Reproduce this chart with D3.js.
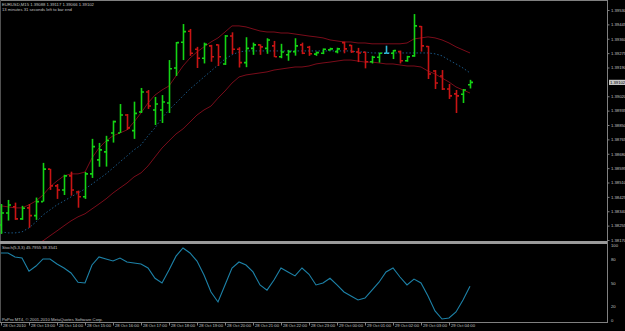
<!DOCTYPE html>
<html>
<head>
<meta charset="utf-8">
<title>EURUSD,M15</title>
<script src="https://cdnjs.cloudflare.com/ajax/libs/d3/7.8.5/d3.min.js"></script>
<style>
    body { margin: 0; background: #000; }
    svg text { font-family: "Liberation Sans", Arial, sans-serif; fill: #c0c0c0; }
</style>
</head>
<body>
<div id="chart"></div>
<script>
// bar data, 15 minute bars from 28 Oct 2010 12:00
var barOpen = [1.38259,1.38330,1.38367,1.38295,1.38360,1.38314,1.38397,1.38589,1.38490,1.38466,
    1.38549,1.38454,1.38426,1.38561,1.38644,1.38691,1.38803,1.38803,1.38909,1.38817,
    1.38927,1.39045,1.38939,1.38939,1.38980,1.39187,1.39339,1.39404,1.39298,1.39245,
    1.39318,1.39324,1.39211,1.39376,1.39298,1.39219,1.39303,1.39324,1.39303,1.39318,
    1.39254,1.39265,1.39284,1.39324,1.39310,1.39269,1.39274,1.39294,1.39284,1.39337,
    1.39321,1.39282,1.39280,1.39224,1.39251,1.39274,1.39274,1.39284,1.39230,1.39259,
    1.39432,1.39314,1.39169,1.39140,1.39063,1.39034,1.39032,1.39088];
var barHigh = [1.38383,1.38407,1.38391,1.38372,1.38383,1.38421,1.38626,1.38591,1.38501,1.38556,
    1.38574,1.38462,1.38572,1.38768,1.38744,1.38786,1.38876,1.38974,1.38915,1.38988,
    1.39069,1.39057,1.39016,1.39027,1.39234,1.39341,1.39447,1.39418,1.39312,1.39337,
    1.39324,1.39327,1.39382,1.39398,1.39310,1.39369,1.39337,1.39327,1.39363,1.39347,
    1.39330,1.39294,1.39363,1.39337,1.39318,1.39284,1.39303,1.39307,1.39307,1.39343,
    1.39324,1.39306,1.39284,1.39259,1.39278,1.39319,1.39294,1.39290,1.39259,1.39506,
    1.39436,1.39318,1.39175,1.39175,1.39093,1.39057,1.39063,1.39117];
var barLow = [1.38206,1.38285,1.38289,1.38289,1.38242,1.38289,1.38397,1.38466,1.38413,1.38436,
    1.38432,1.38361,1.38413,1.38537,1.38603,1.38604,1.38746,1.38803,1.38821,1.38768,
    1.38921,1.38945,1.38850,1.38862,1.38921,1.39140,1.39234,1.39259,1.39187,1.39214,
    1.39224,1.39199,1.39205,1.39269,1.39190,1.39192,1.39265,1.39265,1.39271,1.39251,
    1.39245,1.39230,1.39260,1.39269,1.39259,1.39259,1.39269,1.39290,1.39274,1.39274,
    1.39276,1.39222,1.39185,1.39214,1.39219,1.39271,1.39240,1.39214,1.39224,1.39253,
    1.39284,1.39122,1.39063,1.39057,1.39004,1.38921,1.38980,1.39066];
var barClose = [1.38330,1.38377,1.38295,1.38358,1.38314,1.38397,1.38589,1.38490,1.38466,1.38549,
    1.38466,1.38426,1.38561,1.38722,1.38703,1.38758,1.38870,1.38909,1.38833,1.38919,
    1.39045,1.38962,1.38974,1.38986,1.39183,1.39337,1.39402,1.39274,1.39245,1.39327,
    1.39254,1.39254,1.39376,1.39298,1.39219,1.39303,1.39324,1.39312,1.39353,1.39254,
    1.39282,1.39284,1.39318,1.39274,1.39271,1.39278,1.39298,1.39300,1.39300,1.39300,
    1.39284,1.39276,1.39224,1.39251,1.39274,1.39274,1.39290,1.39230,1.39254,1.39436,
    1.39318,1.39152,1.39098,1.39063,1.39022,1.39022,1.39057,1.39102];

// envelope lines and middle average
var bandUpper = [1.38372,1.38366,1.38360,1.38360,1.38378,1.38401,1.38436,1.38484,1.38519,1.38549,
    1.38561,1.38561,1.38572,1.38655,1.38714,1.38756,1.38786,1.38803,1.38821,1.38868,
    1.38921,1.38980,1.39027,1.39057,1.39081,1.39140,1.39199,1.39246,1.39282,1.39312,
    1.39341,1.39365,1.39400,1.39436,1.39436,1.39430,1.39418,1.39406,1.39400,1.39400,
    1.39394,1.39394,1.39388,1.39382,1.39376,1.39371,1.39365,1.39353,1.39347,1.39341,
    1.39341,1.39335,1.39335,1.39330,1.39330,1.39330,1.39330,1.39330,1.39335,1.39359,
    1.39365,1.39371,1.39365,1.39353,1.39335,1.39312,1.39294,1.39276];
var bandMiddle = [1.38218,1.38212,1.38212,1.38218,1.38242,1.38277,1.38318,1.38348,1.38378,1.38401,
    1.38425,1.38448,1.38472,1.38501,1.38531,1.38561,1.38596,1.38632,1.38667,1.38703,
    1.38732,1.38786,1.38833,1.38892,1.38939,1.38980,1.39022,1.39063,1.39098,1.39134,
    1.39169,1.39205,1.39240,1.39265,1.39282,1.39288,1.39288,1.39288,1.39288,1.39288,
    1.39288,1.39288,1.39288,1.39288,1.39288,1.39288,1.39288,1.39288,1.39288,1.39288,
    1.39288,1.39282,1.39282,1.39276,1.39276,1.39276,1.39276,1.39276,1.39276,1.39276,
    1.39276,1.39276,1.39271,1.39259,1.39234,1.39211,1.39187,1.39158];
var bandLower = [1.38041,1.38064,1.38088,1.38112,1.38129,1.38147,1.38165,1.38195,1.38224,1.38254,
    1.38283,1.38307,1.38325,1.38354,1.38383,1.38413,1.38448,1.38478,1.38507,1.38543,
    1.38567,1.38608,1.38661,1.38714,1.38756,1.38797,1.38827,1.38868,1.38909,1.38939,
    1.38962,1.39009,1.39051,1.39098,1.39134,1.39146,1.39152,1.39158,1.39164,1.39175,
    1.39181,1.39187,1.39193,1.39193,1.39199,1.39211,1.39217,1.39222,1.39228,1.39234,
    1.39234,1.39228,1.39222,1.39222,1.39217,1.39211,1.39211,1.39205,1.39199,1.39199,
    1.39193,1.39169,1.39152,1.39128,1.39104,1.39075,1.39057,1.39039];

// Stoch(5,3,3) main line
var stochMain = [88,88,83,81.6,65,71.5,80.4,80.4,74,69,
    62.7,51,50,72.8,83,80.4,77.8,81.6,76.6,75.3,
    74,69,56,50,66.5,84,94.3,88,77.8,60,
    38.6,26,47.5,69,76.6,72.8,64,47.5,41,53.8,
    69,64,59,69,61,47.5,50,56,47.5,38.6,
    33.5,28.5,31,41,51,64,69,57.6,47.5,55,
    50,33.5,14.6,4.4,5.7,13.3,28.5,45.7955];

var priceTicks = [1.39530,1.39445,1.39360,1.39275,1.39190,1.39105,1.39020,1.38935,1.38850,
    1.38765,1.38680,1.38595,1.38510,1.38425,1.38340,1.38255,1.38170];
var stochTicks = [100, 80, 50, 20, 0];
var timeLabels = ["28 Oct 2010","28 Oct 13:00","28 Oct 14:00","28 Oct 15:00","28 Oct 16:00",
    "28 Oct 17:00","28 Oct 18:00","28 Oct 19:00","28 Oct 20:00","28 Oct 21:00","28 Oct 22:00",
    "28 Oct 23:00","29 Oct 00:00","29 Oct 01:00","29 Oct 02:00","29 Oct 03:00","29 Oct 04:00"];

var headerText = "EURUSD,M15  1.39088 1.39117 1.39066 1.39102";
var timerText = "13 minutes 31 seconds left to bar end";
var stochText = "Stoch(5,3,3) 45.7955 38.3541";
var copyText = "PoPro MT4, \u00a9 2001-2010 MetaQuotes Software Corp.";

var width = 625, height = 331;
var plotRight = 607;
var mainTop = 2, mainBottom = 241;
var subTop = 244, subBottom = 322;

var startTime = new Date(2010, 9, 28, 12, 0);
var barTimes = barOpen.map(function(d, i) { return d3.timeMinute.offset(startTime, 15 * i); });
var hourTicks = timeLabels.map(function(d, i) { return d3.timeHour.offset(startTime, i); });

var x = d3.scaleTime()
    .domain([barTimes[0], barTimes[barTimes.length - 1]])
    .range([1, 470]);
var y = d3.scaleLinear().domain([1.38170, 1.39530]).range([240, 10]);
var ys = d3.scaleLinear().domain([0, 100]).range([322.5, 243.5]);

var svg = d3.select('#chart').append('svg')
    .attr('width', width)
    .attr('height', height)
    .style('display', 'block')
    .style('background', '#000');

svg.append('clipPath').attr('id', 'mainClip')
    .append('rect').attr('x', 0).attr('y', mainTop).attr('width', plotRight).attr('height', mainBottom - mainTop);
svg.append('clipPath').attr('id', 'subClip')
    .append('rect').attr('x', 0).attr('y', subTop).attr('width', plotRight).attr('height', subBottom - subTop);

// frame
svg.append('line').attr('x1', 0).attr('x2', plotRight).attr('y1', 0.5).attr('y2', 0.5)
    .attr('stroke', '#808080');
svg.append('line').attr('x1', 0.5).attr('x2', 0.5).attr('y1', 0).attr('y2', subBottom)
    .attr('stroke', '#505050');
svg.append('rect').attr('x', 0).attr('y', mainBottom).attr('width', plotRight + 1).attr('height', 3)
    .attr('fill', '#9a9a9a');
svg.append('line').attr('x1', 0).attr('x2', plotRight).attr('y1', subBottom + 0.5).attr('y2', subBottom + 0.5)
    .attr('stroke', '#808080');
svg.append('line').attr('x1', plotRight + 0.5).attr('x2', plotRight + 0.5).attr('y1', 0).attr('y2', subBottom + 1)
    .attr('stroke', '#808080');

var main = svg.append('g').attr('clip-path', 'url(#mainClip)');

function bandLine(values) {
    return d3.line()
        .x(function(d, i) { return x(barTimes[i]); })
        .y(function(d) { return y(d); })(values);
}

main.append('path').attr('d', bandLine(bandUpper))
    .attr('fill', 'none').attr('stroke', '#7a0c1a').attr('stroke-width', 1);
main.append('path').attr('d', bandLine(bandLower))
    .attr('fill', 'none').attr('stroke', '#7a0c1a').attr('stroke-width', 1);
main.append('path').attr('d', bandLine(bandMiddle))
    .attr('fill', 'none').attr('stroke', '#1a5684').attr('stroke-width', 1)
    .attr('stroke-dasharray', '1.5,2');

function barColor(i) {
    if (barClose[i] > barOpen[i]) return '#14d414';
    if (barClose[i] < barOpen[i]) return '#c81414';
    return '#30b8d8';
}

var bars = main.selectAll('g.bar')
    .data(barOpen)
    .enter().append('g')
    .attr('class', 'bar')
    .attr('stroke', function(d, i) { return barColor(i); })
    .attr('stroke-width', 1.6);

bars.append('line')
    .attr('x1', function(d, i) { return x(barTimes[i]) + 0.5; })
    .attr('x2', function(d, i) { return x(barTimes[i]) + 0.5; })
    .attr('y1', function(d, i) { return y(barHigh[i]); })
    .attr('y2', function(d, i) { return y(barLow[i]); });
bars.append('line')
    .attr('x1', function(d, i) { return x(barTimes[i]) - 2; })
    .attr('x2', function(d, i) { return x(barTimes[i]); })
    .attr('y1', function(d, i) { return y(barOpen[i]); })
    .attr('y2', function(d, i) { return y(barOpen[i]); });
bars.append('line')
    .attr('x1', function(d, i) { return x(barTimes[i]) + 1; })
    .attr('x2', function(d, i) { return x(barTimes[i]) + 3; })
    .attr('y1', function(d, i) { return y(barClose[i]); })
    .attr('y2', function(d, i) { return y(barClose[i]); });

// stochastic window
var sub = svg.append('g').attr('clip-path', 'url(#subClip)');
sub.append('path')
    .attr('d', d3.line()
        .x(function(d, i) { return x(barTimes[i]); })
        .y(function(d) { return ys(d); })(stochMain))
    .attr('fill', 'none').attr('stroke', '#1d82a8').attr('stroke-width', 1.1);

// price axis
var lastClose = barClose[barClose.length - 1];
var priceAxis = d3.axisRight(y)
    .tickValues(priceTicks.filter(function(d) { return Math.abs(y(d) - y(lastClose)) > 5; }))
    .tickFormat(d3.format('.5f'))
    .tickSize(2)
    .tickPadding(1.5);
var pa = svg.append('g').attr('transform', 'translate(' + (plotRight + 0.5) + ',0)').call(priceAxis);
pa.select('.domain').remove();
pa.selectAll('line').attr('stroke', '#808080');
pa.selectAll('text').attr('font-size', 4.2).attr('fill', '#b8b8b8');

var box = svg.append('g').attr('transform', 'translate(609,' + y(lastClose) + ')');
box.append('rect').attr('x', 0).attr('y', -2.6).attr('width', 16).attr('height', 5.2).attr('fill', '#c8c8c8');
box.append('text').attr('x', 1).attr('y', 1.5).attr('font-size', 4.2).style('fill', '#000')
    .text(d3.format('.5f')(lastClose));

// stochastic scale
var sa = svg.append('g');
sa.selectAll('text').data(stochTicks).enter().append('text')
    .attr('x', 611)
    .attr('y', function(d) { return Math.min(Math.max(ys(d), 245.5), 320) + 1.5; })
    .attr('font-size', 4.2)
    .attr('fill', '#b8b8b8')
    .text(function(d) { return d; });

// time axis
var timeAxis = d3.axisBottom(x)
    .tickValues(hourTicks)
    .tickFormat(function(d, i) { return timeLabels[i]; })
    .tickSize(3)
    .tickPadding(0);
var ta = svg.append('g').attr('transform', 'translate(0,' + (subBottom + 0.5) + ')').call(timeAxis);
ta.select('.domain').remove();
ta.selectAll('line').attr('stroke', '#808080');
ta.selectAll('text')
    .attr('font-size', 4.2)
    .attr('fill', '#b8b8b8')
    .attr('text-anchor', 'start')
    .attr('dx', 1.5)
    .attr('dy', 2.2)
    .attr('y', 2.5);

// labels
svg.append('text').attr('x', 2).attr('y', 6).attr('font-size', 4.2).text(headerText);
svg.append('text').attr('x', 2).attr('y', 11).attr('font-size', 4.2).text(timerText);
svg.append('text').attr('x', 2).attr('y', 249).attr('font-size', 4.2).text(stochText);
svg.append('text').attr('x', 2).attr('y', 320.5).attr('font-size', 4.2).text(copyText);
</script>
</body>
</html>
